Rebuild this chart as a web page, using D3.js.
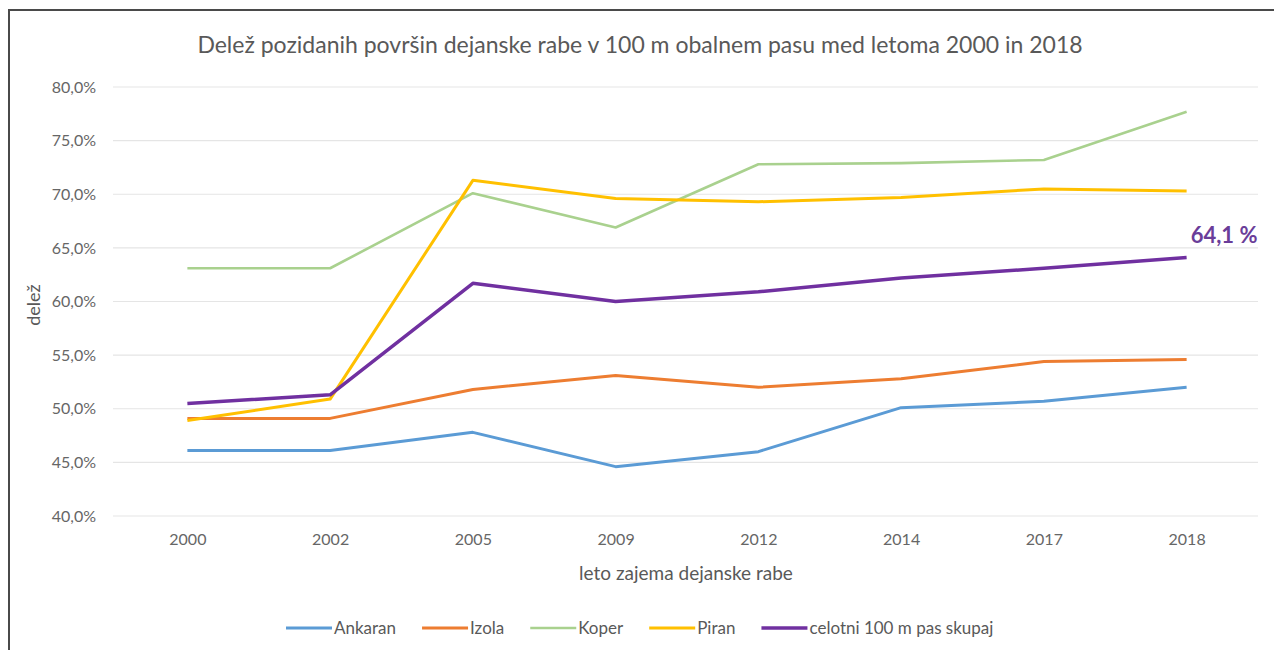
<!DOCTYPE html>
<html>
<head>
<meta charset="utf-8">
<script src="https://cdn.jsdelivr.net/npm/d3@7"></script>
<style>
  body { margin: 0; background: #fff; }
  svg text { font-family: Lato, "Open Sans", sans-serif; }
</style>
</head>
<body>
<div id="chart"></div>
<script>
const years = ['2000', '2002', '2005', '2009', '2012', '2014', '2017', '2018'];
const ankaran = [46.1, 46.1, 47.8, 44.6, 46.0, 50.1, 50.7, 52.0];
const izola = [49.1, 49.1, 51.8, 53.1, 52.0, 52.8, 54.4, 54.6];
const koper = [63.1, 63.1, 70.1, 66.9, 72.8, 72.9, 73.2, 77.7];
const piran = [48.9, 50.9, 71.3, 69.6, 69.3, 69.7, 70.5, 70.3];
const skupaj = [50.5, 51.3, 61.7, 60.0, 60.9, 62.2, 63.1, 64.1];
const yTicks = [40, 45, 50, 55, 60, 65, 70, 75, 80];

const seriesNames = ['Ankaran', 'Izola', 'Koper', 'Piran', 'celotni 100 m pas skupaj'];
const seriesValues = [ankaran, izola, koper, piran, skupaj];
const colors = ['#5b9bd5', '#ed7d31', '#a9d18e', '#ffc000', '#7030a0'];
const widths = [3, 3, 2.6, 3, 3.5];

const width = 1274;
const height = 650;
const margin = { left: 116, right: 16, top: 87, bottom: 134 };

const svg = d3.select('#chart')
  .append('svg')
  .attr('width', width)
  .attr('height', height)

// frame
svg.append('path')
  .attr('d', `M9,${height} V10 H${width}`)
  .attr('fill', 'none')
  .attr('stroke', '#4a4a4a')
  .attr('stroke-width', 2)

const x = d3.scalePoint()
  .domain(years)
  .range([margin.left, width - margin.right])
  .padding(0.5)

const y = d3.scaleLinear()
  .domain([40, 80])
  .range([height - margin.bottom, margin.top])

// grid
svg.append('g')
  .selectAll('line')
  .data(yTicks)
  .enter()
  .append('line')
  .attr('x1', margin.left - 3)
  .attr('x2', width - margin.right)
  .attr('y1', d => y(d))
  .attr('y2', d => y(d))
  .attr('stroke', '#e5e5e5')
  .attr('stroke-width', 1.2)

const fmt = d => d.toFixed(1).replace('.', ',') + '%';

const yAxis = svg.append('g')
  .attr('transform', `translate(${margin.left - 17}, 0)`)
  .call(d3.axisLeft(y).tickValues(yTicks).tickFormat(fmt).tickSize(0))
yAxis.select('.domain').remove()
yAxis.selectAll('text')
  .attr('fill', '#666')
  .style('font-size', '16px')

const xAxis = svg.append('g')
  .attr('transform', `translate(0, ${height - margin.bottom + 15})`)
  .call(d3.axisBottom(x).tickSize(0))
xAxis.select('.domain').remove()
xAxis.selectAll('text')
  .attr('fill', '#666')
  .style('font-size', '16px')

// titles
svg.append('text')
  .attr('x', 640)
  .attr('y', 53)
  .attr('text-anchor', 'middle')
  .attr('fill', '#595959')
  .style('font-size', '23px')
  .text('Delež pozidanih površin dejanske rabe v 100 m obalnem pasu med letoma 2000 in 2018')

svg.append('text')
  .attr('x', 686)
  .attr('y', 580)
  .attr('text-anchor', 'middle')
  .attr('fill', '#595959')
  .style('font-size', '19px')
  .text('leto zajema dejanske rabe')

svg.append('text')
  .attr('transform', 'translate(40, 305) rotate(-90)')
  .attr('text-anchor', 'middle')
  .attr('fill', '#595959')
  .style('font-size', '18px')
  .text('delež')

// lines
const line = d3.line()
  .x((d, i) => x(years[i]))
  .y(d => y(d))

svg.append('g')
  .selectAll('path')
  .data(seriesValues)
  .enter()
  .append('path')
  .attr('d', d => line(d))
  .attr('fill', 'none')
  .attr('stroke', (d, i) => colors[i])
  .attr('stroke-width', (d, i) => widths[i])
  .attr('stroke-linejoin', 'round')

// end label
svg.append('text')
  .attr('x', x('2018') + 4)
  .attr('y', y(skupaj[7]) - 15)
  .attr('fill', '#6a3d99')
  .style('font-size', '22px')
  .style('font-weight', 'bold')
  .text(skupaj[7].toFixed(1).replace('.', ',') + ' %')

// legend, laid out left to right from measured text widths
const legend = svg.append('g')
  .attr('transform', 'translate(286, 628)')

let lx = 0;
seriesNames.forEach((name, i) => {
  const g = legend.append('g').attr('transform', `translate(${lx}, 0)`)
  g.append('line')
    .attr('x1', 0)
    .attr('x2', 46)
    .attr('stroke', colors[i])
    .attr('stroke-width', widths[i])
  const t = g.append('text')
    .attr('x', 48)
    .attr('y', 6)
    .attr('fill', '#595959')
    .style('font-size', '17px')
    .text(name)
  lx += 48 + t.node().getComputedTextLength() + 26;
})
</script>
</body>
</html>
